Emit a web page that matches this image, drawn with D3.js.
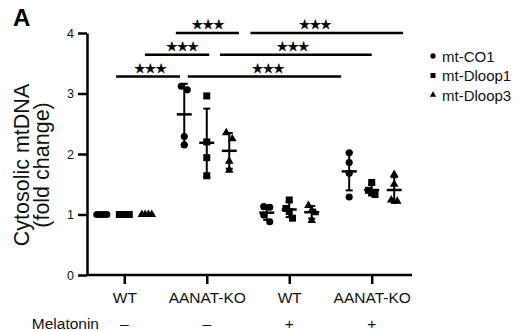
<!DOCTYPE html>
<html>
<head>
<meta charset="utf-8">
<script src="https://cdn.jsdelivr.net/npm/d3@7"></script>
<style>
  body { margin: 0; background: #fff; }
  svg { display: block; font-family: "Liberation Sans", Arial, sans-serif; }
</style>
</head>
<body>
<div class="chart"></div>
<script>
// groups on the x axis
const groups = ["WT", "AANAT-KO", "WT", "AANAT-KO"];
const melatonin = ["\u2013", "\u2013", "+", "+"];
const seriesNames = ["mt-CO1", "mt-Dloop1", "mt-Dloop3"];

// fold change, 4 replicates per group
const co1 = [[1, 1, 1, 1], [3.12, 3.06, 2.29, 2.15], [1.12, 1.13, 0.99, 0.88], [2.02, 1.86, 1.68, 1.29]];
const dloop1 = [[1, 1, 1, 1], [2.96, 2.20, 1.94, 1.64], [1.24, 1.10, 1.05, 0.94], [1.53, 1.40, 1.36, 1.33]];
const dloop3 = [[1, 1, 1, 1], [2.35, 2.25, 1.88, 1.73], [1.15, 1.07, 1.03, 0.90], [1.66, 1.50, 1.24, 1.22]];

const yTicks = [0, 1, 2, 3, 4];

// significance bars: from/to in group units, level in y units, star position
const sigFrom = [-0.10, 0.25, 0.625, 0.77, 1.16, 1.53];
const sigTo = [0.675, 1.03, 1.39, 2.63, 3.0, 3.38];
const sigLevel = [3.28, 3.64, 4.0, 3.28, 3.64, 4.0];
const sigStarAt = [0.31, 0.70, 1.01, 1.74, 2.04, 2.31];
const sigLabel = "\u2605\u2605\u2605";

const cfg = { w: 517, h: 331, x0: 87, x1: 412, top: 33, bottom: 275 };

const svg = d3.select(".chart").append("svg")
  .attr("width", cfg.w).attr("height", cfg.h);

const seriesData = [co1, dloop1, dloop3];
const symbols = [d3.symbolCircle, d3.symbolSquare, d3.symbolTriangle];
const symSize = [40, 49, 32];

const ids = groups.map((g, i) => i);
const x = d3.scalePoint().domain(ids).range([124.3, 371.7]);
const xIdx = d3.scaleLinear().domain([0, 3]).range([124.3, 371.7]);
const xSub = d3.scalePoint().domain(seriesNames).range([-22.5, 22.5]);
const y = d3.scaleLinear().domain([0, 4]).range([cfg.bottom, cfg.top]);

// spread overlapping points sideways
function dodge(vals) {
  const order = d3.range(vals.length).sort((a, b) => y(vals[a]) - y(vals[b]));
  const off = new Array(vals.length).fill(0);
  let cluster = [order[0]];
  const flush = () => {
    const n = cluster.length;
    const gap = n > 2 ? 3.3 : 6;
    cluster.forEach((idx, k) => { off[idx] = (k - (n - 1) / 2) * gap; });
  };
  for (let k = 1; k < order.length; k++) {
    const prev = order[k - 1], cur = order[k];
    if (Math.abs(y(vals[cur]) - y(vals[prev])) < 7) cluster.push(cur);
    else { flush(); cluster = [cur]; }
  }
  flush();
  return off;
}

// y axis
const yAxis = svg.append("g")
  .attr("transform", `translate(${cfg.x0},0)`)
  .call(d3.axisLeft(y).tickValues(yTicks).tickFormat(d3.format("d"))
    .tickSize(9).tickSizeOuter(0).tickPadding(4));
yAxis.select(".domain").attr("stroke-width", 2.5);
yAxis.selectAll(".tick line").attr("stroke-width", 2.5);
yAxis.selectAll(".tick text").attr("font-size", 12.5).attr("font-family", "Liberation Sans, Arial, sans-serif")
  .attr("fill", "#111");

// x axis
const xAxis = svg.append("g")
  .attr("transform", `translate(0,${cfg.bottom})`)
  .call(d3.axisBottom(x).tickSize(9).tickPadding(8).tickFormat(i => groups[i]));
xAxis.select(".domain").remove();
xAxis.append("line")
  .attr("x1", cfg.x0 - 1).attr("x2", cfg.x1)
  .attr("stroke", "#000").attr("stroke-width", 2.5);
xAxis.selectAll(".tick line").attr("stroke-width", 2.5);
xAxis.selectAll(".tick text").attr("font-size", 15.5).attr("font-family", "Liberation Sans, Arial, sans-serif")
  .attr("fill", "#111");

// melatonin row
svg.append("text").attr("x", 99).attr("y", 329)
  .attr("text-anchor", "end").attr("font-size", 15.5).attr("fill", "#111").text("Melatonin");
svg.selectAll("text.mel").data(melatonin).enter().append("text")
  .attr("class", "mel")
  .attr("x", (d, i) => x(i)).attr("y", 329)
  .attr("text-anchor", "middle").attr("font-size", 15.5).attr("fill", "#111")
  .text(d => d);

// y label
const yl = svg.append("g").attr("transform", "rotate(-90)");
yl.append("text").attr("x", -165).attr("y", 28.5).attr("text-anchor", "middle")
  .attr("font-size", 21.5).attr("fill", "#111").text("Cytosolic mtDNA");
yl.append("text").attr("x", -165).attr("y", 49).attr("text-anchor", "middle")
  .attr("font-size", 21.5).attr("fill", "#111").text("(fold change)");

// panel letter
svg.append("text").attr("x", 13).attr("y", 26)
  .attr("font-size", 20).attr("font-weight", "bold").attr("transform", "translate(13,26) scale(1.2) translate(-13,-26)").text("A");

// points + mean/SD
seriesData.forEach((data, s) => {
  data.forEach((vals, g) => {
    const cx = x(g) + xSub(seriesNames[s]);
    const m = d3.mean(vals);
    const sd = d3.deviation(vals) || 0;
    const grp = svg.append("g");
    const off = dodge(vals);
    grp.selectAll("path").data(vals).enter().append("path")
      .attr("d", d3.symbol().type(symbols[s]).size(symSize[s]))
      .attr("transform", (d, i) => `translate(${cx + off[i]},${y(d)})`)
      .attr("fill", "#000");
    if (sd > 0) {
      grp.append("line").attr("x1", cx).attr("x2", cx)
        .attr("y1", y(m - sd)).attr("y2", y(m + sd))
        .attr("stroke", "#000").attr("stroke-width", 2);
      [m - sd, m + sd].forEach(v => {
        grp.append("line").attr("x1", cx - 3.5).attr("x2", cx + 3.5)
          .attr("y1", y(v)).attr("y2", y(v))
          .attr("stroke", "#000").attr("stroke-width", 2);
      });
    }
    grp.append("line").attr("x1", cx - 7.5).attr("x2", cx + 7.5)
      .attr("y1", y(m)).attr("y2", y(m))
      .attr("stroke", "#000").attr("stroke-width", 2.5);
  });
});

// significance bars
const sig = svg.selectAll("g.sig").data(sigFrom).enter().append("g").attr("class", "sig");
sig.append("line")
  .attr("x1", d => xIdx(d)).attr("x2", (d, i) => xIdx(sigTo[i]))
  .attr("y1", (d, i) => y(sigLevel[i])).attr("y2", (d, i) => y(sigLevel[i]))
  .attr("stroke", "#000").attr("stroke-width", 2.5);
sig.append("text")
  .attr("x", (d, i) => xIdx(sigStarAt[i])).attr("y", (d, i) => y(sigLevel[i]) - 4)
  .attr("text-anchor", "middle").attr("font-family", "DejaVu Sans")
  .attr("font-size", 13).attr("stroke", "#000").attr("stroke-width", 0.4)
  .attr("letter-spacing", -1).text(sigLabel);

// legend
const legend = svg.selectAll("g.leg").data(seriesNames).enter().append("g")
  .attr("class", "leg")
  .attr("transform", (d, i) => `translate(433,${56 + i * 19.5})`);
legend.append("path")
  .attr("d", (d, i) => d3.symbol().type(symbols[i]).size([22, 25, 18][i])())
  .attr("fill", "#000");
legend.append("text").attr("x", 9).attr("y", 5.5)
  .attr("font-size", 15).attr("fill", "#111").text(d => d);
</script>
</body>
</html>
